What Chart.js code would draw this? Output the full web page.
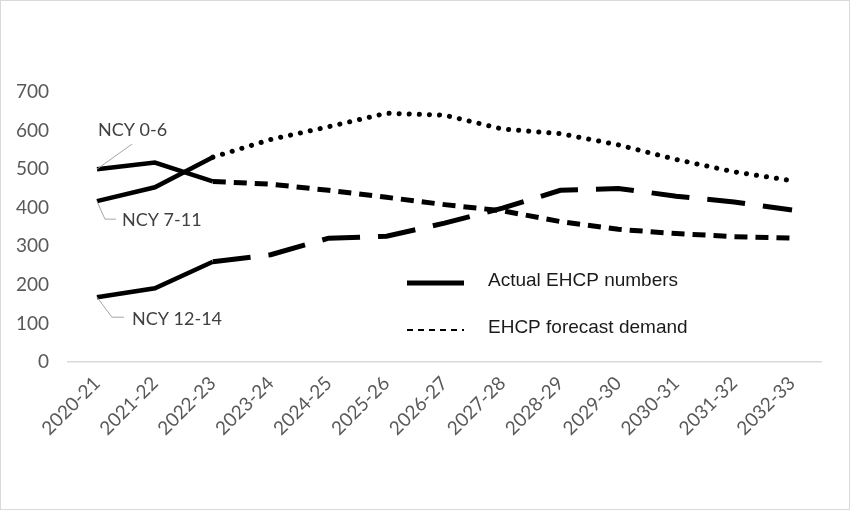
<!DOCTYPE html>
<html>
<head>
<meta charset="utf-8">
<script src="https://cdn.jsdelivr.net/npm/chart.js@4"></script>
<style>
  body { margin: 0; background: #fff; }
  #wrap { position: relative; width: 850px; height: 510px; box-sizing: border-box; border: 1px solid #d9d9d9; }
</style>
</head>
<body>
<div id="wrap"><canvas id="myChart" width="848" height="508"></canvas></div>
<script>
// Data
const years = ['2020-21', '2021-22', '2022-23', '2023-24', '2024-25', '2025-26', '2026-27',
               '2027-28', '2028-29', '2029-30', '2030-31', '2031-32', '2032-33'];

const ncy06Actual   = [500, 517, 468, null, null, null, null, null, null, null, null, null, null];
const ncy06Forecast = [null, null, 468, 461, 445, 427, 408, 392, 364, 344, 333, 325, 321];

const ncy711Actual   = [417, 453, 531, null, null, null, null, null, null, null, null, null, null];
const ncy711Forecast = [null, null, 531, 577, 610, 645, 640, 604, 592, 563, 525, 493, 470];

const ncy1214Actual   = [168, 191, 260, null, null, null, null, null, null, null, null, null, null];
const ncy1214Forecast = [null, null, 260, 278, 321, 326, 360, 399, 445, 450, 430, 415, 394];

const groupLabels = ['NCY 0-6', 'NCY 7-11', 'NCY 12-14'];
const legendLabels = ['Actual EHCP numbers', 'EHCP forecast demand'];

const textGrey = '#595959';

// callout labels with leader lines, anchored on the first point of each group
const calloutPlugin = {
    id: 'callouts',
    afterDatasetsDraw(chart) {
        const ctx = chart.ctx;
        const x = chart.scales.x;
        const y = chart.scales.y;
        const px = x.getPixelForValue(0);
        const firsts = [ncy06Actual[0], ncy711Actual[0], ncy1214Actual[0]];

        ctx.save();
        ctx.strokeStyle = '#a6a6a6';
        ctx.lineWidth = 1;
        ctx.fillStyle = '#404040';
        ctx.font = '18px Lato';
        ctx.textBaseline = 'middle';

        // NCY 0-6 : slanted line up to the right
        let py = y.getPixelForValue(firsts[0]);
        ctx.beginPath();
        ctx.moveTo(px, py);
        ctx.lineTo(px + 35, py - 25);
        ctx.stroke();
        ctx.fillText(groupLabels[0], px + 1, py - 39);

        // NCY 7-11 : down then across
        py = y.getPixelForValue(firsts[1]);
        ctx.beginPath();
        ctx.moveTo(px, py);
        ctx.lineTo(px + 8, py + 18);
        ctx.lineTo(px + 19, py + 18);
        ctx.stroke();
        ctx.fillText(groupLabels[1], px + 25, py + 19);

        // NCY 12-14 : down then across
        py = y.getPixelForValue(firsts[2]);
        ctx.beginPath();
        ctx.moveTo(px, py);
        ctx.lineTo(px + 15, py + 20);
        ctx.lineTo(px + 27, py + 20);
        ctx.stroke();
        ctx.fillText(groupLabels[2], px + 35, py + 22);

        ctx.restore();
    }
};

// legend drawn inside the plot area
const legendPlugin = {
    id: 'ehcpLegend',
    afterDraw(chart) {
        const ctx = chart.ctx;
        ctx.save();
        ctx.strokeStyle = '#000';
        ctx.lineWidth = 5;
        ctx.beginPath();
        ctx.moveTo(406, 282);
        ctx.lineTo(463, 282);
        ctx.stroke();

        ctx.lineWidth = 2;
        ctx.setLineDash([6, 5]);
        ctx.beginPath();
        ctx.moveTo(406, 329);
        ctx.lineTo(463, 329);
        ctx.stroke();
        ctx.setLineDash([]);

        ctx.fillStyle = '#1a1a1a';
        ctx.font = '19px "Liberation Sans", Arial';
        ctx.textBaseline = 'middle';
        ctx.fillText(legendLabels[0], 487, 280);
        ctx.fillText(legendLabels[1], 487, 327);
        ctx.restore();
    }
};

const solid = { borderColor: '#000', borderWidth: 4.5, pointRadius: 0, fill: false, tension: 0, spanGaps: false };

const ctx = document.getElementById('myChart').getContext('2d');
const myChart = new Chart(ctx, {
    type: 'line',
    data: {
        labels: years,
        datasets: [
            Object.assign({ label: 'NCY 0-6 actual', data: ncy06Actual }, solid),
            Object.assign({ label: 'NCY 0-6 forecast', data: ncy06Forecast }, solid,
                { borderDash: [13, 8], borderWidth: 5 }),
            Object.assign({ label: 'NCY 7-11 actual', data: ncy711Actual }, solid),
            Object.assign({ label: 'NCY 7-11 forecast', data: ncy711Forecast }, solid,
                { borderDash: [0.1, 10], borderCapStyle: 'round', borderWidth: 5 }),
            Object.assign({ label: 'NCY 12-14 actual', data: ncy1214Actual }, solid),
            Object.assign({ label: 'NCY 12-14 forecast', data: ncy1214Forecast }, solid,
                { borderDash: [38, 18], borderWidth: 5 })
        ]
    },
    options: {
        responsive: false,
        animation: false,
        layout: { padding: { top: 91, right: 28, left: 0, bottom: 0 } },
        plugins: {
            legend: { display: false },
            tooltip: { enabled: false }
        },
        scales: {
            x: {
                offset: true,
                grid: { display: false, drawTicks: false },
                border: { display: true, color: '#d9d9d9', width: 1.5 },
                ticks: {
                    color: textGrey,
                    font: { family: 'Lato', size: 19 },
                    maxRotation: 45,
                    minRotation: 45,
                    padding: 10
                },
                afterFit(scale) { scale.height = 147; }
            },
            y: {
                min: 0,
                max: 700,
                grid: { display: false, drawTicks: false },
                border: { display: false },
                ticks: {
                    stepSize: 100,
                    color: textGrey,
                    font: { family: 'Lato', size: 19 },
                    padding: 19
                },
                afterFit(scale) { scale.width = 67; }
            }
        }
    },
    plugins: [calloutPlugin, legendPlugin]
});
</script>
</body>
</html>
